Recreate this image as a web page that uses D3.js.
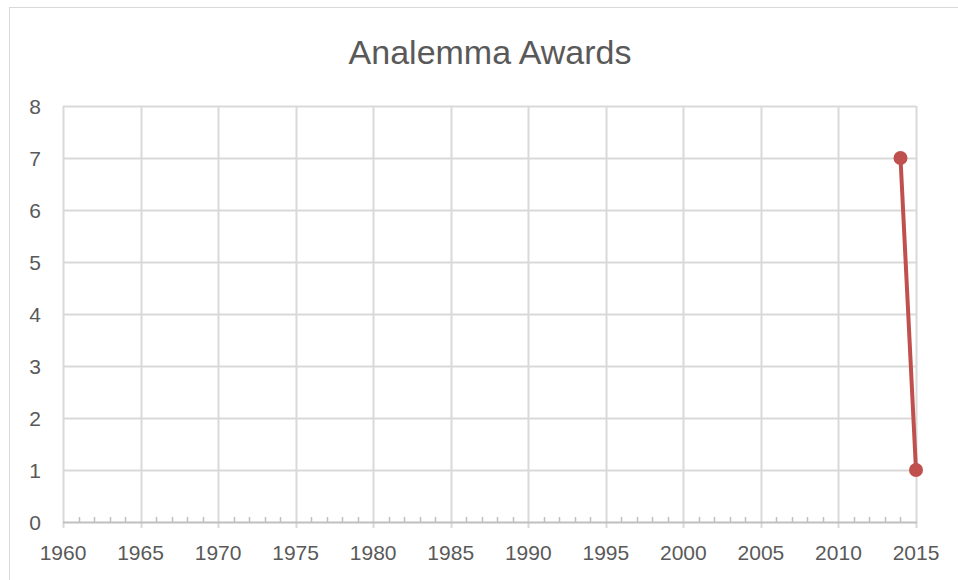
<!DOCTYPE html>
<html>
<head>
<meta charset="utf-8">
<script src="https://cdn.jsdelivr.net/npm/d3@7"></script>
<style>
  body { margin: 0; background: #fff; }
  text { font-family: "Liberation Sans", Arial, sans-serif; fill: #595959; }
</style>
</head>
<body>
<svg id="chart" width="958" height="580"></svg>
<script>
const title = "Analemma Awards";
const years = [2014, 2015];
const awards = [7, 1];
const xTicks = [1960, 1965, 1970, 1975, 1980, 1985, 1990, 1995, 2000, 2005, 2010, 2015];
const yTicks = [0, 1, 2, 3, 4, 5, 6, 7, 8];

const svg = d3.select("#chart");
const W = 958, H = 580;
const plotL = 63, plotR = 916, plotT = 106, plotB = 522;

// outer chart border
svg.append("rect")
    .attr("x", 9.5).attr("y", 7.5)
    .attr("width", W).attr("height", H)
    .attr("fill", "none").attr("stroke", "#d9d9d9");

svg.append("text")
    .attr("x", 490).attr("y", 64)
    .attr("text-anchor", "middle")
    .attr("font-size", 34)
    .text(title);

const x = d3.scaleLinear().domain([1960, 2015]).range([plotL, plotR]);
const y = d3.scaleLinear().domain([0, 8]).range([plotB, plotT]);

// gridlines
svg.append("g").selectAll("line")
    .data(yTicks.filter(d => d > 0))
    .enter().append("line")
    .attr("x1", plotL).attr("x2", plotR)
    .attr("y1", d => Math.round(y(d)) + 0.5).attr("y2", d => Math.round(y(d)) + 0.5)
    .attr("stroke", "#d9d9d9").attr("stroke-width", 2);

svg.append("g").selectAll("line")
    .data(xTicks)
    .enter().append("line")
    .attr("x1", d => Math.round(x(d)) + 0.5).attr("x2", d => Math.round(x(d)) + 0.5)
    .attr("y1", plotT).attr("y2", plotB + 6)
    .attr("stroke", "#d9d9d9").attr("stroke-width", 2);

// minor ticks every year
svg.append("g").selectAll("line")
    .data(d3.range(1961, 2015).filter(d => d % 5 != 0))
    .enter().append("line")
    .attr("x1", d => Math.round(x(d)) + 0.5).attr("x2", d => Math.round(x(d)) + 0.5)
    .attr("y1", plotB - 5).attr("y2", plotB)
    .attr("stroke", "#bfbfbf").attr("stroke-width", 1.5);

// x axis line
svg.append("line")
    .attr("x1", plotL).attr("x2", plotR + 1)
    .attr("y1", plotB + 0.5).attr("y2", plotB + 0.5)
    .attr("stroke", "#bfbfbf").attr("stroke-width", 2);

// tick labels
svg.append("g").selectAll("text")
    .data(xTicks)
    .enter().append("text")
    .attr("x", d => x(d))
    .attr("y", 560)
    .attr("text-anchor", "middle")
    .attr("font-size", 21)
    .text(d => d);

svg.append("g").selectAll("text")
    .data(yTicks)
    .enter().append("text")
    .attr("x", 41)
    .attr("y", d => y(d) + 8)
    .attr("text-anchor", "end")
    .attr("font-size", 21)
    .text(d => d);

// series
const pts = years.map((d, i) => [d, awards[i]]);
svg.append("path")
    .datum(pts)
    .attr("d", d3.line().x(d => x(d[0])).y(d => y(d[1])))
    .attr("fill", "none")
    .attr("stroke", "#c0504d")
    .attr("stroke-width", 4)
    .attr("stroke-linecap", "round");

svg.append("g").selectAll("circle")
    .data(pts)
    .enter().append("circle")
    .attr("cx", d => x(d[0]))
    .attr("cy", d => y(d[1]))
    .attr("r", 7)
    .attr("fill", "#c0504d");
</script>
</body>
</html>
